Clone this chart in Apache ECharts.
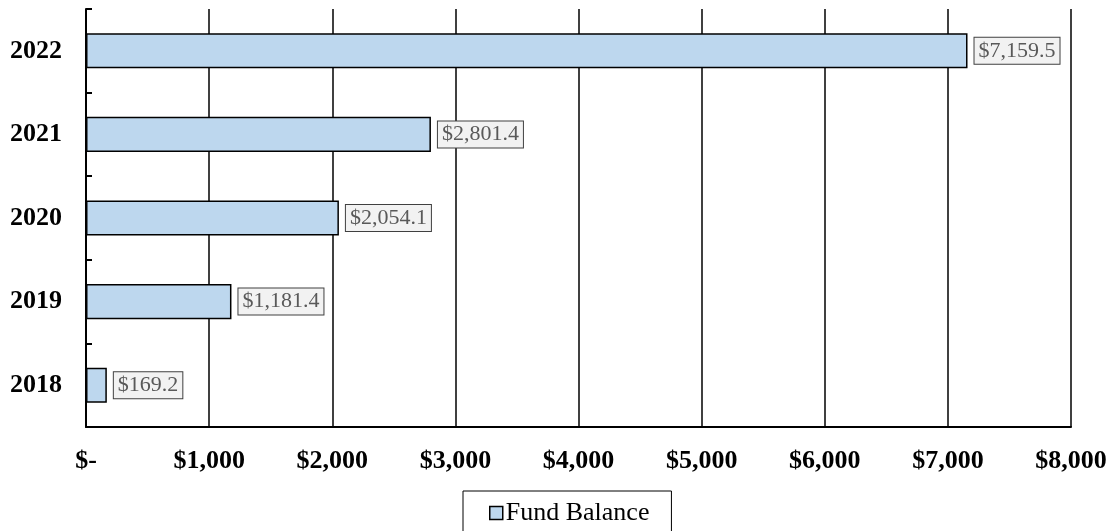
<!DOCTYPE html>
<html>
<head>
<meta charset="utf-8">
<script src="https://cdn.jsdelivr.net/npm/echarts@6/dist/echarts.min.js"></script>
<style>
  html, body { margin: 0; padding: 0; background: #fff; }
  #chart { width: 1113px; height: 531px; }
</style>
</head>
<body>
<div id="chart"></div>
<script>
const years = ['2018', '2019', '2020', '2021', '2022']
const fundBalance = [169.2, 1181.4, 2054.1, 2801.4, 7159.5]
const xTicks = { min: 0, max: 8000, interval: 1000 }

const serif = '"Liberation Serif", "Times New Roman", serif'

function money(v) {
  return '$' + v.toLocaleString('en-US', { minimumFractionDigits: 1, maximumFractionDigits: 1 })
}

const chart = echarts.init(document.getElementById('chart'))
chart.setOption({
  animation: false,
  grid: { left: 86, right: 42, top: 9, bottom: 104, containLabel: false },
  legend: {
    left: 463,
    top: 491,
    data: ['Fund Balance'],
    icon: 'rect',
    itemWidth: 13,
    itemHeight: 13,
    itemGap: 4,
    padding: [9, 22, 8, 26],
    borderColor: '#000',
    borderWidth: 1,
    itemStyle: { borderColor: '#000', borderWidth: 1.5 },
    textStyle: { fontFamily: serif, fontSize: 26, color: '#000', padding: [0, 0, 0, -2] }
  },
  xAxis: {
    type: 'value',
    min: xTicks.min,
    max: xTicks.max,
    interval: xTicks.interval,
    axisLine: { show: true, lineStyle: { color: '#000', width: 2 } },
    axisTick: { show: false },
    splitLine: { show: true, lineStyle: { color: '#000', width: 1.5 } },
    axisLabel: {
      margin: 21,
      fontFamily: serif,
      fontSize: 26,
      fontWeight: 'bold',
      color: '#000',
      formatter: v => v === 0 ? '$-' : '$' + v.toLocaleString('en-US')
    }
  },
  yAxis: {
    type: 'category',
    data: years,
    axisLine: { show: true, lineStyle: { color: '#000', width: 2 } },
    axisTick: { show: true, inside: true, length: 6, lineStyle: { color: '#000', width: 2 } },
    axisLabel: {
      margin: 24,
      fontFamily: serif,
      fontSize: 26,
      fontWeight: 'bold',
      color: '#000'
    }
  },
  series: [{
    name: 'Fund Balance',
    type: 'bar',
    data: fundBalance,
    barWidth: '42%',
    itemStyle: { color: '#BDD7EE', borderColor: '#000', borderWidth: 1.5 },
    label: {
      show: true,
      position: 'right',
      distance: 7,
      formatter: p => money(p.value),
      fontFamily: serif,
      fontSize: 22,
      color: '#595959',
      backgroundColor: '#F2F2F2',
      borderColor: '#404040',
      borderWidth: 1,
      padding: [3, 4, 1, 4]
    }
  }]
})
</script>
</body>
</html>
